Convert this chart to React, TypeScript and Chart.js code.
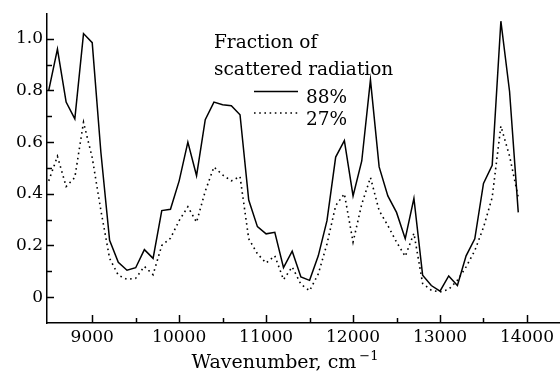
import { useEffect, useRef } from 'react';
import { Chart, registerables } from 'chart.js';

Chart.register(...registerables);

// Wavenumber (cm^-1) of each measured point
const wavenumbers = [
  8500, 8600, 8700, 8800, 8900, 9000, 9100, 9200, 9300, 9400,
  9500, 9600, 9700, 9800, 9900, 10000, 10100, 10200, 10300, 10400,
  10500, 10600, 10700, 10800, 10900, 11000, 11100, 11200, 11300, 11400,
  11500, 11600, 11700, 11800, 11900, 12000, 12100, 12200, 12300, 12400,
  12500, 12600, 12700, 12800, 12900, 13000, 13100, 13200, 13300, 13400,
  13500, 13600, 13700, 13800, 13900,
];

// Fraction of scattered radiation 88% (solid)
const fraction88 = [
  0.80, 0.96, 0.755, 0.69, 1.02, 0.985, 0.56, 0.22, 0.135, 0.104,
  0.114, 0.184, 0.15, 0.335, 0.34, 0.45, 0.60, 0.47, 0.687, 0.755,
  0.745, 0.741, 0.706, 0.376, 0.273, 0.245, 0.251, 0.114, 0.178, 0.078,
  0.065, 0.16, 0.296, 0.542, 0.606, 0.392, 0.527, 0.841, 0.504, 0.392,
  0.328, 0.226, 0.382, 0.085, 0.045, 0.023, 0.082, 0.045, 0.16, 0.226,
  0.44, 0.51, 1.068, 0.796, 0.328,
];

// Fraction of scattered radiation 27% (dotted)
const fraction27 = [
  0.45, 0.545, 0.428, 0.463, 0.677, 0.54, 0.335, 0.15, 0.085, 0.069,
  0.073, 0.119, 0.087, 0.2, 0.228, 0.296, 0.35, 0.29, 0.41, 0.504,
  0.473, 0.45, 0.467, 0.226, 0.168, 0.132, 0.16, 0.068, 0.117, 0.05,
  0.025, 0.09, 0.206, 0.354, 0.4, 0.213, 0.36, 0.463, 0.335, 0.277,
  0.213, 0.158, 0.247, 0.053, 0.027, 0.02, 0.03, 0.065, 0.117, 0.18,
  0.27, 0.386, 0.662, 0.546, 0.386,
];

// Tick positions (major ones carry labels)
const xTickValues = [9000, 9500, 10000, 10500, 11000, 11500, 12000, 12500, 13000, 13500, 14000];
const yTickValues = [0, 0.1, 0.2, 0.3, 0.4, 0.5, 0.6, 0.7, 0.8, 0.9, 1.0];

const seriesLabels = ['88%', '27%'];
const legendTitle = ['Fraction of', 'scattered radiation'];
const xAxisTitle = 'Wavenumber, cm';
const xAxisTitleSup = '\u22121';

const X_MIN = 8480;
const X_MAX = 14380;
const Y_MIN = -0.1;
const Y_MAX = 1.095;

const FONT = "'DejaVu Serif', serif";

const isMultiple = (v: number, step: number) =>
  Math.abs(v / step - Math.round(v / step)) < 1e-6;

export default function App() {
  const ref = useRef<HTMLCanvasElement>(null);

  useEffect(() => {
    if (!ref.current) return;

    const inwardTicks = {
      id: 'inwardTicks',
      afterDraw(chart: any) {
        const { ctx, chartArea } = chart;
        const xs = chart.scales.x;
        const ys = chart.scales.y;
        ctx.save();
        ctx.strokeStyle = '#000';
        ctx.lineWidth = 1.5;
        xs.ticks.forEach((t: any) => {
          const px = Math.round(xs.getPixelForValue(t.value)) + 0.5;
          const len = isMultiple(t.value, 1000) ? 8 : 5;
          ctx.beginPath();
          ctx.moveTo(px, chartArea.bottom);
          ctx.lineTo(px, chartArea.bottom - len);
          ctx.stroke();
        });
        ys.ticks.forEach((t: any) => {
          const py = Math.round(ys.getPixelForValue(t.value)) + 0.5;
          const len = isMultiple(t.value, 0.2) ? 7 : 5;
          ctx.beginPath();
          ctx.moveTo(chartArea.left, py);
          ctx.lineTo(chartArea.left + len, py);
          ctx.stroke();
        });
        ctx.restore();
      },
    };

    const annotations = {
      id: 'annotations',
      afterDraw(chart: any) {
        const { ctx } = chart;
        ctx.save();
        ctx.fillStyle = '#000';
        ctx.textBaseline = 'alphabetic';
        ctx.textAlign = 'left';
        // legend
        ctx.font = `18.5px ${FONT}`;
        ctx.fillText(legendTitle[0], 214, 48);
        ctx.fillText(legendTitle[1], 214, 75);
        const rows = [91.5, 113];
        const baselines = [103, 125];
        chart.data.datasets.forEach((ds: any, i: number) => {
          const y = rows[i];
          ctx.save();
          ctx.strokeStyle = ds.borderColor;
          ctx.lineWidth = ds.borderWidth;
          ctx.setLineDash(ds.borderDash || []);
          ctx.beginPath();
          ctx.moveTo(254, y);
          ctx.lineTo(298, y);
          ctx.stroke();
          ctx.restore();
          ctx.fillText(ds.label, 306, baselines[i]);
        });
        // x axis title with superscript
        ctx.font = `19px ${FONT}`;
        const w = ctx.measureText(xAxisTitle).width;
        ctx.font = `13px ${FONT}`;
        const ws = ctx.measureText(xAxisTitleSup).width;
        const total = w + 3 + ws;
        const cx = 285;
        const x0 = cx - total / 2;
        ctx.font = `19px ${FONT}`;
        ctx.fillText(xAxisTitle, x0, 368);
        ctx.font = `13px ${FONT}`;
        ctx.fillText(xAxisTitleSup, x0 + w + 3, 360);
        ctx.restore();
      },
    };

    const chart = new Chart(ref.current, {
      type: 'line',
      data: {
        datasets: [
          {
            label: seriesLabels[0],
            data: wavenumbers.map((w, i) => ({ x: w, y: fraction88[i] })),
            borderColor: '#000',
            borderWidth: 1.5,
            pointRadius: 0,
            tension: 0,
            fill: false,
          },
          {
            label: seriesLabels[1],
            data: wavenumbers.map((w, i) => ({ x: w, y: fraction27[i] })),
            borderColor: '#000',
            borderWidth: 1.6,
            borderDash: [1.6, 3.6],
            pointRadius: 0,
            tension: 0,
            fill: false,
          },
        ],
      },
      options: {
        animation: false,
        responsive: false,
        devicePixelRatio: 1,
        layout: { padding: { top: 12, left: 0, right: 0, bottom: 0 } },
        plugins: {
          legend: { display: false },
          tooltip: { enabled: false },
        },
        scales: {
          x: {
            type: 'linear',
            min: X_MIN,
            max: X_MAX,
            grid: { display: false, drawTicks: false },
            border: { display: true, color: '#000', width: 1.5 },
            afterBuildTicks: (scale: any) => {
              scale.ticks = xTickValues.map((v) => ({ value: v }));
            },
            ticks: {
              autoSkip: false,
              maxRotation: 0,
              minRotation: 0,
              padding: 4,
              color: '#000',
              font: { family: FONT, size: 17 },
              callback: (v: any) => (isMultiple(Number(v), 1000) ? String(v) : ''),
            },
            title: { display: false },
            afterFit: (scale: any) => {
              scale.height = 51;
            },
          },
          y: {
            type: 'linear',
            min: Y_MIN,
            max: Y_MAX,
            grid: { display: false, drawTicks: false },
            border: { display: true, color: '#000', width: 1.5 },
            afterBuildTicks: (scale: any) => {
              scale.ticks = yTickValues.map((v) => ({ value: v }));
            },
            ticks: {
              autoSkip: false,
              padding: 4,
              color: '#000',
              font: { family: FONT, size: 17 },
              callback: (v: any) => {
                const n = Number(v);
                if (!isMultiple(n, 0.2)) return '';
                return Math.abs(n) < 1e-9 ? '0' : n.toFixed(1);
              },
            },
            afterFit: (scale: any) => {
              scale.width = 47;
            },
          },
        },
      },
      plugins: [inwardTicks, annotations],
    } as any);

    return () => chart.destroy();
  }, []);

  return (
    <div style={{ position: 'absolute', left: 0, top: 0, width: 560, height: 374, background: '#fff' }}>
      <canvas ref={ref} width={560} height={374} />
    </div>
  );
}
